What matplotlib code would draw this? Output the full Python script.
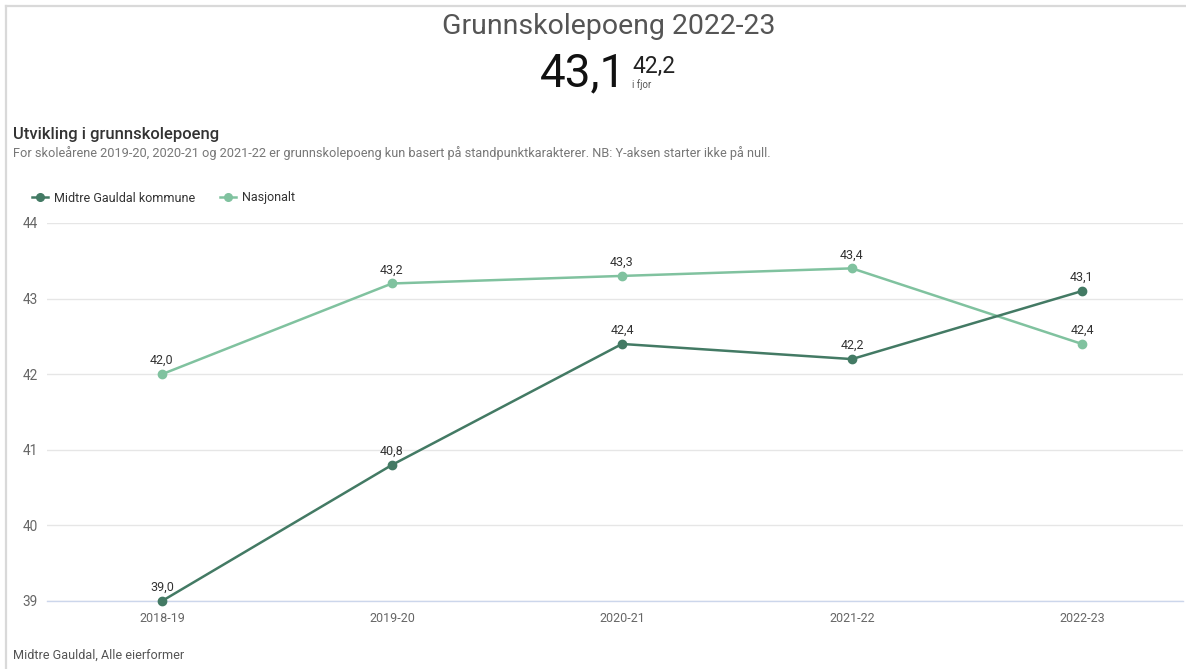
import matplotlib
matplotlib.use("Agg")
import matplotlib.pyplot as plt
from matplotlib.lines import Line2D

plt.rcParams["font.family"] = ["Roboto", "DejaVu Sans"]

years = ["2018-19", "2019-20", "2020-21", "2021-22", "2022-23"]
midtre = [39.0, 40.8, 42.4, 42.2, 43.1]
nasjonalt = [42.0, 43.2, 43.3, 43.4, 42.4]
series_names = ["Midtre Gauldal kommune", "Nasjonalt"]
yticks = [39, 40, 41, 42, 43, 44]

headline = "Grunnskolepoeng 2022-23"
current_val = "43,1"
last_year_val = "42,2"

DARK = "#437a64"
LIGHT = "#80c29f"
W, H = 1186, 669


def fx(px):
    return px / W


def fy(py):
    return 1 - py / H


def fmt(v):
    return f"{v:.1f}".replace(".", ",")


fig = plt.figure(figsize=(W / 100, H / 100), dpi=100)
fig.patch.set_facecolor("white")

# card border (top and left edge)
fig.add_artist(Line2D([fx(6), fx(1186)], [fy(5.5), fy(5.5)], color="#d9d9d9", lw=1.6))
fig.add_artist(Line2D([fx(6), fx(6)], [fy(5.5), fy(669)], color="#d9d9d9", lw=1.6))

# headline KPI
fig.text(fx(609), fy(27), headline, ha="center", va="center", fontsize=20.5, color="#555555")
fig.text(fx(626), fy(86), current_val, ha="right", va="baseline", fontsize=33, color="#111111")
fig.text(fx(632), fy(73), last_year_val, ha="left", va="baseline", fontsize=16.5, color="#222222")
fig.text(fx(632), fy(88), "i fjor", ha="left", va="baseline", fontsize=7, color="#555555")

# chart title and subtitle
fig.text(fx(13), fy(134), "Utvikling i grunnskolepoeng", ha="left", va="center",
         fontsize=12, fontweight="medium", color="#333333")
fig.text(fx(13), fy(153), "For skoleårene 2019-20, 2020-21 og 2021-22 er grunnskolepoeng kun basert på "
         "standpunktkarakterer. NB: Y-aksen starter ikke på null.",
         ha="left", va="center", fontsize=9.15, color="#777777")
fig.text(fx(13), fy(655), "Midtre Gauldal, Alle eierformer", ha="left", va="center",
         fontsize=9.1, color="#555555")

ax = fig.add_axes([fx(47), fy(601), fx(1183) - fx(47), fy(223) - fy(601)])
x = list(range(len(years)))
ax.plot(x, nasjonalt, color=LIGHT, lw=1.8, marker="o", ms=6, zorder=3, clip_on=False)
ax.plot(x, midtre, color=DARK, lw=1.8, marker="o", ms=6, zorder=3, clip_on=False)

for vals in (midtre, nasjonalt):
    for i, v in zip(x, vals):
        ax.annotate(fmt(v), (i, v), xytext=(0, 5), textcoords="offset points",
                    ha="center", va="bottom", fontsize=9, color="#333333")

ax.set_xlim(-0.5, (1183 - 162) / 230)
ax.set_ylim(39, 44)
ax.set_yticks(yticks)
ax.set_xticks(x)
ax.set_xticklabels(years)
ax.grid(axis="y", color="#e6e6e6", lw=1)
ax.set_axisbelow(True)
for s in ("top", "right", "left"):
    ax.spines[s].set_visible(False)
ax.spines["bottom"].set_color("#ccd6eb")
ax.spines["bottom"].set_linewidth(1)
ax.tick_params(axis="both", length=0, labelcolor="#666666")
ax.tick_params(axis="y", pad=6.5, labelsize=9.8)
ax.tick_params(axis="x", pad=8, labelsize=9)
ax.set_facecolor("none")

# legend
handles = [Line2D([], [], color=c, lw=1.8, marker="o", ms=5.5) for c in (DARK, LIGHT)]
fig.legend(handles, series_names, loc="center left", bbox_to_anchor=(fx(32), fy(198)),
           ncol=2, frameon=False, fontsize=9, handlelength=1.3, handletextpad=0.45,
           columnspacing=2.0, labelcolor="#333333", borderaxespad=0, borderpad=0)

fig.savefig("out.png", dpi=100, facecolor="white")
